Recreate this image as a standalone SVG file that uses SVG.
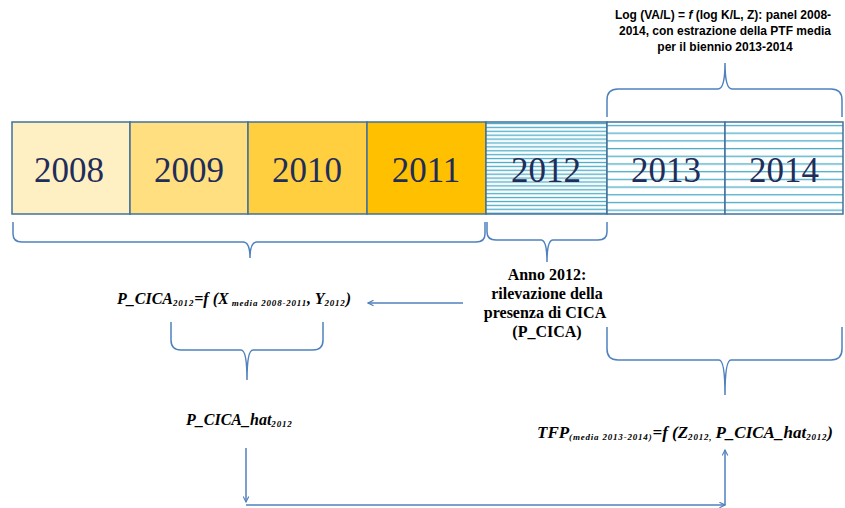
<svg xmlns="http://www.w3.org/2000/svg" width="845" height="508" viewBox="0 0 845 508">
<style>
.box{stroke:#41719C;stroke-width:1.5}
.yr{font-family:"Liberation Serif",serif;font-size:35px;fill:#1F2D5A;text-anchor:middle}
.br{fill:none;stroke:#4F81BD;stroke-width:1.5}
.cn{fill:none;stroke:#4F81BD;stroke-width:1.5}
.f{font-family:"Liberation Serif",serif;font-weight:bold;font-style:italic;font-size:16px;fill:#000}
.s{font-size:9px;letter-spacing:0.8px}
.an{font-family:"Liberation Serif",serif;font-weight:bold;font-size:16px;fill:#000;text-anchor:middle}
.top{font-family:"Liberation Sans",sans-serif;font-weight:bold;font-size:12px;fill:#000;text-anchor:middle}
</style>
<defs>
<pattern id="h1" width="10" height="3.9" patternUnits="userSpaceOnUse" y="122">
<rect width="10" height="3.9" fill="#fff"/>
<line x1="0" y1="1.5" x2="10" y2="1.5" stroke="#4BACC6" stroke-width="1.3"/>
</pattern>
<pattern id="h2" width="10" height="7.7" patternUnits="userSpaceOnUse" y="122">
<rect width="10" height="7.7" fill="#fff"/>
<line x1="0" y1="3.5" x2="10" y2="3.5" stroke="#4BACC6" stroke-width="1.3"/>
</pattern>
<marker id="ah" viewBox="0 0 10 10" refX="9" refY="5" markerWidth="7" markerHeight="7" orient="auto" markerUnits="userSpaceOnUse">
<path d="M1,1 L9,5 L1,9" fill="none" stroke="#4F81BD" stroke-width="1.6"/>
</marker>
</defs>

<g id="y2008"><rect class="box" x="12" y="122" width="118" height="92" fill="#FFF0C3"/><text class="yr" x="69" y="182">2008</text></g>
<g id="y2009"><rect class="box" x="130" y="122" width="118" height="92" fill="#FFDF7F"/><text class="yr" x="189" y="182">2009</text></g>
<g id="y2010"><rect class="box" x="248" y="122" width="119" height="92" fill="#FFCF3F"/><text class="yr" x="307" y="182">2010</text></g>
<g id="y2011"><rect class="box" x="367" y="122" width="119" height="92" fill="#FFC000"/><text class="yr" x="426" y="182">2011</text></g>
<g id="y2012"><rect class="box" x="486" y="122" width="121" height="92" fill="url(#h1)"/><text class="yr" x="546" y="182">2012</text></g>
<g id="y2013"><rect class="box" x="607" y="122" width="118" height="92" fill="url(#h2)"/><text class="yr" x="666" y="182">2013</text></g>
<g id="y2014"><rect class="box" x="725" y="122" width="118" height="92" fill="url(#h2)"/><text class="yr" x="784" y="182">2014</text></g>

<g id="braces">
<path class="br" d="M607,117 L607,100 Q607,89 618,89 L718,89 Q725,89 725,63 Q725,89 732,89 L831,89 Q842,89 842,100 L842,117"/>
<path class="br" d="M13,222 L13,234 Q13,242 22,242 L243,242 Q250,242 250,258 Q250,242 257,242 L476,242 Q485,242 485,234 L485,222"/>
<path class="br" d="M487,222 L487,232 Q487,240 496,240 L541,240 Q547,240 547,262 Q547,240 553,240 L598,240 Q607,240 607,232 L607,222"/>
<path class="br" d="M171,322 L171,340 Q171,350 181,350 L241,350 Q247,350 247,380 Q247,350 253,350 L313,350 Q323,350 323,340 L323,322"/>
<path class="br" d="M607,327 L607,349 Q607,360 618,360 L719,360 Q725,360 725,395 Q725,360 731,360 L831,360 Q842,360 842,349 L842,327"/>
</g>

<g id="connectors">
<line class="cn" x1="463" y1="303" x2="368" y2="303" marker-end="url(#ah)"/>
<line class="cn" x1="246" y1="448" x2="246" y2="502" marker-end="url(#ah)"/>
<line class="cn" x1="246" y1="505" x2="725" y2="505" marker-end="url(#ah)"/>
<line class="cn" x1="725" y1="505" x2="725" y2="450" marker-end="url(#ah)"/>
</g>

<g id="note-top">
<text class="top" x="723" y="19">Log (VA/L) = <tspan font-style="italic">f</tspan> (log K/L, Z): panel 2008-</text>
<text class="top" x="725" y="35">2014, con estrazione della PTF media</text>
<text class="top" x="725" y="51">per il biennio 2013-2014</text>
</g>

<g id="anno">
<text class="an" x="547" y="280">Anno 2012:</text>
<text class="an" x="547" y="299">rilevazione della</text>
<text class="an" x="545" y="318">presenza di CICA</text>
<text class="an" x="547" y="337">(P_CICA)</text>
</g>

<g id="formula1">
<text class="f" x="117" y="304">P_CICA<tspan class="s" dy="2">2012</tspan><tspan dy="-2">=f (X</tspan><tspan class="s" dy="2"> media 2008-2011</tspan><tspan dy="-2">, Y</tspan><tspan class="s" dy="2">2012</tspan><tspan dy="-2">)</tspan></text>
</g>

<g id="hat">
<text class="f" x="186" y="425">P_CICA_hat<tspan class="s" dy="2">2012</tspan></text>
</g>

<g id="formula2">
<text class="f" x="537" y="438" style="font-size:17px">TFP<tspan class="s" dy="2">(media 2013-2014)</tspan><tspan dy="-2">=f (Z</tspan><tspan class="s" dy="2">2012, </tspan><tspan dy="-2">P_CICA_hat</tspan><tspan class="s" dy="2">2012</tspan><tspan dy="-2">)</tspan></text>
</g>
</svg>
